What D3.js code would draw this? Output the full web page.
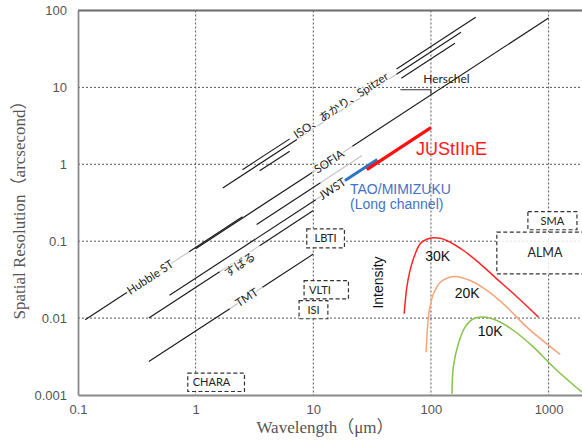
<!DOCTYPE html>
<html><head><meta charset="utf-8">
<script src="https://cdn.jsdelivr.net/npm/d3@7"></script>
<style>body{margin:0;background:#fff}</style>
</head><body><svg id="c" width="582" height="443"></svg>
<script>
// ---------- data ----------
const xTicks = [0.1, 1, 10, 100, 1000];
const yTicks = [0.001, 0.01, 0.1, 1, 10, 100];

// diffraction-limit lines: resolution (arcsec) at 1 µm and wavelength ranges (µm)
const lineNames  = ["Hubble ST", "SOFIA", "JWST", "Subaru", "TMT", "ISO", "AKARI", "Spitzer", "other"];
const lineK      = [0.083, 0.080, 0.033, 0.025, 0.0068, 0.34, 0.29, 0.235, 0.05];
const lineSolid  = [[[0.115,0.26],[0.88,2.5]], [[1,9.8],[21.5,1000]], [[0.6,10.5]], [[0.4,1.6],[3.5,10]],
                    [[0.4,1.95],[3.7,10]], [[2.5,6.3],[51,240]], [[1.7,8],[51,180]], [[3.5,6.3],[56,160]], [[3.3,11.5]]];
const lineFaded  = [[[0.26,0.88]], [[9.8,21.5]], [[10.5,18.6]], [[1.6,3.5]], [[1.95,3.7]], [], [[8,51]], [], [[11.5,26]]];

// labels sitting on the lines
const labelText   = ["Hubble ST", "SOFIA", "JWST", "すばる", "TMT", "ISO、あかり、Spitzer"];
const labelLine   = [0, 1, 2, 3, 4, 5];
const labelLambda = [0.41, 13.6, 14.5, 2.25, 2.72, 17.2];

// highlighted instruments
const taoK = 0.033, taoRange = [18.6, 35];
const justK = 0.030, justRange = [28.5, 100];

// Herschel marker
const herschelLevel = 9.3, herschelRange = [55, 100];

// interferometer boxes
const boxNames  = ["LBTI", "VLTI", "ISI", "CHARA", "SMA", "ALMA"];
const boxLambda = [[8.8,18.4],[8.35,19.9],[7.57,13.3],[0.857,2.6],[667,1742],[363,3200]];
const boxRes    = [[0.082,0.145],[0.0178,0.0308],[0.0098,0.0169],[0.00111,0.00192],[0.141,0.243],[0.0377,0.131]];

// blackbody curves (inset, plotted in the same frame)
const bbNames = ["30K", "20K", "10K"];
const bb30Lambda = [59.2, 62.4, 66, 71, 80.9, 92, 105, 120, 136, 189, 262, 363, 504, 820];
const bb30Val    = [0.0114, 0.0252, 0.040, 0.059, 0.0925, 0.106, 0.111, 0.109, 0.102, 0.0757, 0.0508, 0.0324, 0.0207, 0.0103];
const bb20Lambda = [91, 95.2, 100, 105, 120, 140, 161, 215, 299, 442, 653, 1256];
const bb20Val    = [0.0036, 0.0103, 0.016, 0.0207, 0.0293, 0.0335, 0.0348, 0.0308, 0.0229, 0.0139, 0.00762, 0.00336];
const bb10Lambda = [151, 155, 171, 195, 230, 279, 363, 504, 745, 1102, 1919];
const bb10Val    = [0.00104, 0.0023, 0.00463, 0.00762, 0.0098, 0.0103, 0.0093, 0.0069, 0.00419, 0.0023, 0.00109];
const bbLabelLambda = [89.3, 159, 250];
const bbLabelVal    = [0.0561, 0.0185, 0.0058];

// ---------- chart ----------
const svg = d3.select("#c");
const L = 78, T = 10.5, B = 395, R = 584;
const x = d3.scaleLog().domain([0.1, 2000]).range([L, R]);
const y = d3.scaleLog().domain([0.001, 100]).range([B, T]);
const ang = Math.atan2(y(10) - y(1), x(10) - x(1)) * 180 / Math.PI;

const sans = "'Liberation Sans', Arial, sans-serif";
const lab = "Lato, 'Noto Sans CJK JP', sans-serif";

// grid
const g = svg.append("g");
g.selectAll(".vg").data(xTicks.slice(1)).join("line")
  .attr("x1", d => x(d)).attr("x2", d => x(d)).attr("y1", T).attr("y2", B)
  .attr("stroke", "#555").attr("stroke-width", 1).attr("stroke-dasharray", "2,2");
g.selectAll(".hg").data(yTicks.slice(1, -1)).join("line")
  .attr("x1", L).attr("x2", R).attr("y1", d => y(d)).attr("y2", d => y(d))
  .attr("stroke", "#555").attr("stroke-width", 1).attr("stroke-dasharray", "2,2");

// frame / axes
svg.append("line").attr("x1", L).attr("x2", R).attr("y1", T).attr("y2", T)
  .attr("stroke", "#6b6b6b").attr("stroke-width", 2);
const ax = svg.append("g").attr("transform", `translate(0,${B})`)
  .call(d3.axisBottom(x).tickValues(xTicks).tickFormat(d => String(d)).tickSize(0).tickPadding(10));
const ay = svg.append("g").attr("transform", `translate(${L},0)`)
  .call(d3.axisLeft(y).tickValues(yTicks).tickFormat(d => String(d)).tickSize(0).tickPadding(11));
[ax, ay].forEach(a => {
  a.select(".domain").attr("stroke", "#8a8a8a").attr("stroke-width", 1.8);
  a.selectAll("text").attr("fill", "#555").attr("font-family", sans).attr("font-size", 13);
});

// diffraction lines
const segLine = (k, a, b) => `M${x(a)},${y(k * a)}L${x(b)},${y(k * b)}`;
lineK.forEach((k, i) => {
  lineFaded[i].forEach(s => svg.append("path").attr("d", segLine(k, s[0], s[1]))
    .attr("stroke", "#c4c4c4").attr("stroke-width", 1.1).attr("fill", "none"));
  lineSolid[i].forEach(s => svg.append("path").attr("d", segLine(k, s[0], s[1]))
    .attr("stroke", "#1a1a1a").attr("stroke-width", 1.15).attr("fill", "none"));
});

// Herschel marker
svg.append("path")
  .attr("d", `M${x(herschelRange[0])},${y(herschelLevel)}L${x(herschelRange[1])},${y(herschelLevel)}L${x(herschelRange[1])},${y(lineK[1] * herschelRange[1])}`)
  .attr("stroke", "#333").attr("stroke-width", 1.1).attr("fill", "none");
svg.append("text").attr("x", x(86)).attr("y", y(11.5)).text("Herschel")
  .attr("font-family", lab).attr("font-size", 12).attr("fill", "#222");

// line labels
const perp = [0, 0, 0, 5, 0, 0];
labelText.forEach((t, i) => {
  const k = lineK[labelLine[i]], lam = labelLambda[i];
  svg.append("text")
    .attr("transform", `translate(${x(lam)},${y(k * lam)}) rotate(${ang})`)
    .attr("y", perp[i]).attr("dy", "0.35em").attr("text-anchor", "middle")
    .attr("font-family", lab).attr("font-size", 11.5).attr("fill", "#222")
    .attr("stroke", "#fff").attr("stroke-width", 2.5).attr("paint-order", "stroke")
    .text(t);
});

// TAO & JUStIInE
svg.append("path").attr("d", segLine(taoK, taoRange[0], taoRange[1]))
  .attr("stroke", "#2e75c4").attr("stroke-width", 3).attr("fill", "none");
svg.append("path").attr("d", segLine(justK, justRange[0], justRange[1]))
  .attr("stroke", "#ff1010").attr("stroke-width", 3.3).attr("fill", "none");
svg.append("text").attr("x", 416).attr("y", 155).text("JUStIInE")
  .attr("font-family", sans).attr("font-size", 18).attr("fill", "#ff1a1a");
svg.append("text").attr("x", 350).attr("y", 194).text("TAO/MIMIZUKU")
  .attr("font-family", sans).attr("font-size", 14).attr("fill", "#4472c4");
svg.append("text").attr("x", 350).attr("y", 208.5).text("(Long channel)")
  .attr("font-family", sans).attr("font-size", 14).attr("fill", "#4472c4");

// boxes
const leftAligned = new Set(["VLTI", "CHARA"]);
boxNames.forEach((n, i) => {
  const x0 = x(boxLambda[i][0]), x1 = x(boxLambda[i][1]);
  const y0 = y(boxRes[i][1]), y1 = y(boxRes[i][0]);
  svg.append("rect").attr("x", x0).attr("y", y0).attr("width", x1 - x0).attr("height", y1 - y0)
    .attr("fill", "#fff").attr("fill-opacity", 0.85)
    .attr("stroke", "#333").attr("stroke-width", 1.2).attr("stroke-dasharray", "4,2.5");
  const la = leftAligned.has(n);
  svg.append("text").attr("x", la ? x0 + 5 : (x0 + Math.min(x1, 593)) / 2).attr("y", (y0 + y1) / 2)
    .attr("dy", "0.36em").attr("text-anchor", la ? "start" : "middle")
    .attr("font-family", lab).attr("font-size", n === "ALMA" ? 12.5 : 11).attr("fill", "#222").text(n);
});

// blackbody curves
const bbData = [[bb30Lambda, bb30Val, "#ff2424"], [bb20Lambda, bb20Val, "#f8a47a"], [bb10Lambda, bb10Val, "#86c44a"]];
const lineGen = d3.line().x(d => x(d[0])).y(d => y(d[1])).curve(d3.curveCatmullRom.alpha(0.5));
bbData.forEach(([ls, vs, c]) => {
  svg.append("path").attr("d", lineGen(ls.map((l, j) => [l, vs[j]])))
    .attr("stroke", c).attr("stroke-width", 1.5).attr("fill", "none");
});
bbNames.forEach((n, i) => {
  svg.append("text").attr("x", x(bbLabelLambda[i])).attr("y", y(bbLabelVal[i])).text(n)
    .attr("font-family", sans).attr("font-size", 14).attr("fill", "#111");
});
svg.append("text").attr("transform", "translate(383,282.5) rotate(-90)").attr("text-anchor", "middle")
  .attr("font-family", sans).attr("font-size", 14).attr("fill", "#111").text("Intensity");

// axis titles
svg.append("text").attr("x", 325).attr("y", 433).attr("text-anchor", "middle")
  .attr("font-family", "'Liberation Serif', 'Noto Sans CJK JP', serif").attr("font-size", 17).attr("fill", "#555")
  .text("Wavelength（μm）");
svg.append("text").attr("transform", "translate(25,206) rotate(-90)").attr("text-anchor", "middle")
  .attr("font-family", "'Liberation Serif', 'Noto Sans CJK JP', serif").attr("font-size", 17).attr("fill", "#555")
  .text("Spatial Resolution（arcsecond）");
</script></body></html>
